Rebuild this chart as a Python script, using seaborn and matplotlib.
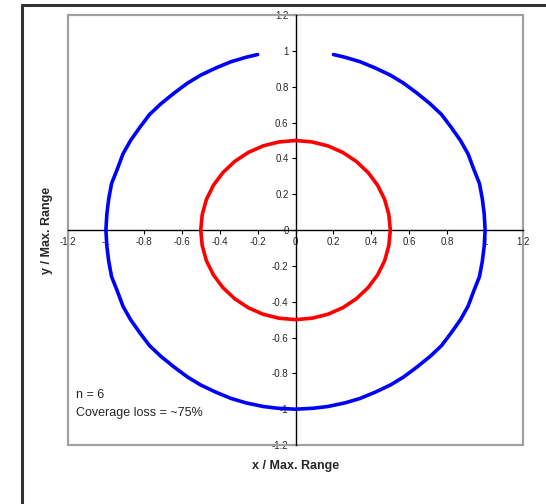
import matplotlib
matplotlib.use("Agg")
import matplotlib.pyplot as plt
from matplotlib.lines import Line2D
from matplotlib.patches import Rectangle
import pandas as pd
import seaborn as sns

# Outer coverage boundary (normalised by max range), traced counter-clockwise
outer_x = [-0.20, -0.26, -0.34, -0.42, -0.50, -0.57, -0.64, -0.71, -0.77, -0.82,
           -0.87, -0.91, -0.94, -0.97, -0.985, -0.995, -1.00,
           -0.995, -0.985, -0.97, -0.94, -0.91, -0.87, -0.82, -0.77, -0.71,
           -0.64, -0.57, -0.50, -0.42, -0.34, -0.26, -0.17, -0.09, 0.00,
           0.09, 0.17, 0.26, 0.34, 0.42, 0.50, 0.57, 0.64, 0.71, 0.77,
           0.82, 0.87, 0.91, 0.94, 0.97, 0.985, 0.995, 1.00,
           0.995, 0.985, 0.97, 0.94, 0.91, 0.87, 0.82, 0.77, 0.71,
           0.64, 0.57, 0.50, 0.42, 0.34, 0.26, 0.20]
outer_y = [0.98, 0.965, 0.94, 0.905, 0.865, 0.82, 0.765, 0.705, 0.645, 0.575,
           0.50, 0.425, 0.34, 0.26, 0.175, 0.09, 0.00,
           -0.09, -0.175, -0.26, -0.34, -0.425, -0.50, -0.575, -0.645, -0.705,
           -0.765, -0.82, -0.865, -0.905, -0.94, -0.965, -0.985, -0.995, -1.00,
           -0.995, -0.985, -0.965, -0.94, -0.905, -0.865, -0.82, -0.765, -0.705, -0.645,
           -0.575, -0.50, -0.425, -0.34, -0.26, -0.175, -0.09, 0.00,
           0.09, 0.175, 0.26, 0.34, 0.425, 0.50, 0.575, 0.645, 0.705,
           0.765, 0.82, 0.865, 0.905, 0.94, 0.965, 0.98]

# Inner coverage boundary (closed loop)
inner_x = [0.000, 0.087, 0.171, 0.250, 0.321, 0.383, 0.433, 0.470, 0.492, 0.500,
           0.492, 0.470, 0.433, 0.383, 0.321, 0.250, 0.171, 0.087, 0.000,
           -0.087, -0.171, -0.250, -0.321, -0.383, -0.433, -0.470, -0.492, -0.500,
           -0.492, -0.470, -0.433, -0.383, -0.321, -0.250, -0.171, -0.087, 0.000]
inner_y = [0.500, 0.492, 0.470, 0.433, 0.383, 0.321, 0.250, 0.171, 0.087, 0.000,
           -0.087, -0.171, -0.250, -0.321, -0.383, -0.433, -0.470, -0.492, -0.500,
           -0.492, -0.470, -0.433, -0.383, -0.321, -0.250, -0.171, -0.087, 0.000,
           0.087, 0.171, 0.250, 0.321, 0.383, 0.433, 0.470, 0.492, 0.500]

tick_values = [-1.2, -1.0, -0.8, -0.6, -0.4, -0.2, 0.0, 0.2, 0.4, 0.6, 0.8, 1.0, 1.2]
tick_labels = ["-1.2", "-1", "-0.8", "-0.6", "-0.4", "-0.2", "0",
               "0.2", "0.4", "0.6", "0.8", "1", "1.2"]

sns.set_style("white")
plt.rcParams["font.family"] = ["Liberation Sans", "DejaVu Sans"]

fig = plt.figure(figsize=(5.46, 5.04), dpi=100)
ax = fig.add_axes([0.1245, 0.117, 0.8335, 0.853])

outer = pd.DataFrame({"x": outer_x, "y": outer_y})
inner = pd.DataFrame({"x": inner_x, "y": inner_y})
sns.lineplot(data=outer, x="x", y="y", sort=False, estimator=None,
             color="#0000ff", linewidth=2.6, ax=ax, zorder=3)
sns.lineplot(data=inner, x="x", y="y", sort=False, estimator=None,
             color="#ff0000", linewidth=2.6, ax=ax, zorder=3)
for line in ax.get_lines():
    line.set_solid_capstyle("round")
    line.set_solid_joinstyle("round")

ax.set_xlim(-1.2, 1.2)
ax.set_ylim(-1.2, 1.2)

# Axes crossing at the origin
for side in ("left", "bottom"):
    ax.spines[side].set_position(("data", 0))
    ax.spines[side].set_color("black")
    ax.spines[side].set_linewidth(1.0)
    ax.spines[side].set_zorder(2)
for side in ("top", "right"):
    ax.spines[side].set_visible(False)

# Grey plot-area frame
ax.add_patch(Rectangle((0, 0), 1, 1, transform=ax.transAxes, fill=False,
                       edgecolor="#a0a0a0", linewidth=1.6, zorder=1, clip_on=False))

ax.set_xticks(tick_values)
ax.set_xticklabels(tick_labels)
ax.set_yticks(tick_values)
ax.set_yticklabels(tick_labels)
ax.tick_params(axis="both", direction="out", length=3, width=0.8,
               labelsize=7, color="black", pad=2, bottom=True, left=True)

ax.set_xlabel("")
ax.set_ylabel("")
fig.text(0.542, 0.075, "x / Max. Range", ha="center", va="center",
         fontsize=9, fontweight="bold")
fig.text(0.086, 0.543, "y / Max. Range", ha="center", va="center",
         fontsize=9, fontweight="bold", rotation=90)

ax.text(-1.16, -0.92, "n = 6", fontsize=9, ha="left", va="center")
ax.text(-1.16, -1.02, "Coverage loss = ~75%", fontsize=9, ha="left", va="center")

# Chart border
fig.add_artist(Line2D([0.0403, 0.0403], [0.0, 0.990], color="#333333",
                      linewidth=2.2, transform=fig.transFigure))
fig.add_artist(Line2D([0.0403, 1.0], [0.990, 0.990], color="#333333",
                      linewidth=2.2, transform=fig.transFigure))

fig.savefig("out.png", dpi=100)
